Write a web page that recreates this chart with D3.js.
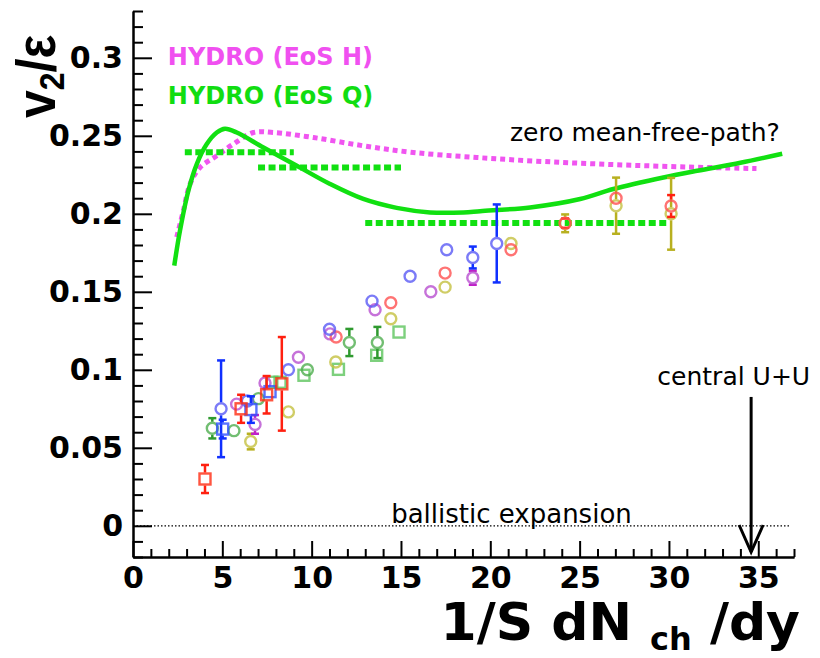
<!DOCTYPE html>
<html>
<head>
<meta charset="utf-8">
<script src="https://cdn.jsdelivr.net/npm/d3@7"></script>
<style>
html, body { margin: 0; padding: 0; background: #fff; }
svg { display: block; }
</style>
</head>
<body>
<div id="root"></div>
<script>
const width = 820;
const height = 658;

// hydro curves
const hydroQX = [2.31, 2.63, 3.10, 3.57, 4.13, 4.69, 5.15, 5.81, 7.30, 9.17, 11.03, 12.89, 14.76, 16.63, 18.49, 19.43, 22.23, 25.03, 26.89, 29.69, 31.58, 34.0, 36.34];
const hydroQY = [0.1668, 0.1892, 0.2148, 0.2319, 0.2447, 0.2521, 0.2545, 0.2521, 0.2425, 0.2308, 0.2191, 0.2095, 0.2038, 0.2009, 0.2009, 0.2017, 0.2041, 0.2095, 0.2159, 0.2233, 0.2276, 0.2327, 0.2385];
const hydroHX = [2.45, 2.82, 3.19, 3.75, 4.69, 5.62, 6.74, 7.86, 10.10, 12.89, 15.69, 19.24, 23.0, 27.0, 31.0, 34.9];
const hydroHY = [0.185, 0.202, 0.219, 0.2297, 0.2372, 0.2447, 0.2521, 0.2521, 0.2489, 0.2436, 0.2393, 0.2361, 0.2335, 0.2315, 0.2300, 0.2290];

// EoS Q plateaus (dotted green)
const plateauFrom = [2.9, 7.0, 13.0];
const plateauTo = [9.0, 15.0, 30.0];
const plateauY = [0.2394, 0.2296, 0.1941];

// data: [1/S dNch/dy, v2/eps, error]
const redSquares = [[4.03, 0.030, 0.009], [6.05, 0.075, 0.009], [7.48, 0.084, 0.012], [8.33, 0.091, 0.030]];
const redCircles = [[11.37, 0.121, 0], [14.43, 0.143, 0], [17.47, 0.162, 0], [21.16, 0.177, 0], [24.19, 0.194, 0.003], [27.04, 0.210, 0], [30.12, 0.205, 0.007]];
const blueCircles = [[4.93, 0.075, 0.031], [6.40, 0.080, 0], [8.70, 0.100, 0], [11.0, 0.126, 0], [13.38, 0.144, 0], [15.51, 0.160, 0], [17.56, 0.177, 0], [19.02, 0.172, 0.007], [20.36, 0.181, 0.025]];
const blueSquares = [[5.02, 0.062, 0.006], [6.60, 0.0745, 0.0085], [7.67, 0.086, 0]];
const greenCircles = [[4.44, 0.0625, 0.0065], [5.65, 0.061, 0], [7.02, 0.0815, 0], [9.76, 0.100, 0], [12.11, 0.1175, 0.0087], [13.68, 0.1175, 0.010]];
const greenSquares = [[7.77, 0.092, 0], [8.23, 0.092, 0], [9.57, 0.0965, 0], [11.5, 0.1003, 0], [13.64, 0.1093, 0], [14.89, 0.1242, 0]];
const magentaCircles = [[5.80, 0.078, 0], [6.83, 0.065, 0.006], [7.39, 0.0915, 0], [9.26, 0.108, 0], [11.03, 0.123, 0], [13.55, 0.1385, 0], [16.67, 0.150, 0], [19.02, 0.159, 0.0045]];
const oliveCircles = [[6.59, 0.054, 0.005], [8.70, 0.073, 0], [11.35, 0.105, 0], [14.43, 0.1327, 0], [17.47, 0.153, 0], [21.16, 0.181, 0], [24.19, 0.1939, 0.0057], [27.04, 0.2052, 0.018], [30.12, 0.200, 0.023]];

const xTickLabels = [0, 5, 10, 15, 20, 25, 30, 35];
const yTickLabels = [0, 0.05, 0.1, 0.15, 0.2, 0.25, 0.3];

const series = [
    {pts: greenSquares, shape: 'square', color: '#5cc45c', err: '#30a030'},
    {pts: greenCircles, shape: 'circle', color: '#4fae4f', err: '#2f9a2f'},
    {pts: oliveCircles, shape: 'circle', color: '#c4c040', err: '#b8b020'},
    {pts: magentaCircles, shape: 'circle', color: '#b84fd0', err: '#c020c8'},
    {pts: redCircles, shape: 'circle', color: '#ff5050', err: '#ff2010'},
    {pts: blueCircles, shape: 'circle', color: '#5a5af5', err: '#1030ff'},
    {pts: blueSquares, shape: 'square', color: '#3050ff', err: '#1030ff'},
    {pts: redSquares, shape: 'square', color: '#ff2a10', err: '#ff2010'}
];

const x = d3.scaleLinear().domain([0, 37]).range([133, 794]);
const y = d3.scaleLinear().domain([-0.02, 0.33]).range([557, 11]);

const svg = d3.select('#root')
    .append('svg')
    .attr('width', width)
    .attr('height', height);

// zero line
svg.append('line')
    .attr('x1', x(0)).attr('x2', x(36.8))
    .attr('y1', y(0)).attr('y2', y(0))
    .attr('stroke', '#000')
    .attr('stroke-width', 1.2)
    .attr('stroke-dasharray', '1.5,2');

// axes - minor ticks first, then major with labels
const xMinor = d3.range(0, 38).filter(d => d % 5 !== 0);
const yMinor = d3.range(-2, 34).filter(d => d % 5 !== 0).map(d => d / 100);

const styleAxis = g => {
    g.selectAll('line').attr('stroke', '#000').attr('stroke-width', 2);
    g.select('.domain').attr('stroke', '#000').attr('stroke-width', 2);
    g.selectAll('text')
        .attr('fill', '#000')
        .attr('font-family', 'DejaVu Sans')
        .attr('font-weight', 'bold')
        .attr('font-size', 30);
};

svg.append('g')
    .attr('transform', `translate(0,${y(-0.02)})`)
    .call(d3.axisBottom(x).tickValues(xMinor).tickSize(-8).tickSizeOuter(0).tickFormat(''))
    .call(styleAxis);
svg.append('g')
    .attr('transform', `translate(0,${y(-0.02)})`)
    .call(d3.axisBottom(x).tickValues(xTickLabels).tickSize(-16).tickSizeOuter(0).tickPadding(10).tickFormat(d => String(d)))
    .call(styleAxis);
svg.append('g')
    .attr('transform', `translate(${x(0)},0)`)
    .call(d3.axisLeft(y).tickValues(yMinor).tickSize(-10).tickSizeOuter(0).tickFormat(''))
    .call(styleAxis);
svg.append('g')
    .attr('transform', `translate(${x(0)},0)`)
    .call(d3.axisLeft(y).tickValues(yTickLabels).tickSize(-19).tickSizeOuter(0).tickPadding(10).tickFormat(d => String(d)))
    .call(styleAxis);

// hydro curves
const line = d3.line()
    .x(d => x(d[0]))
    .y(d => y(d[1]))
    .curve(d3.curveCatmullRom.alpha(0.5));

svg.append('path')
    .attr('d', line(hydroHX.map((d, i) => [d, hydroHY[i]])))
    .attr('fill', 'none')
    .attr('stroke', '#f055f0')
    .attr('stroke-width', 5)
    .attr('stroke-dasharray', '5,4');

svg.selectAll('.plateau')
    .data(plateauY)
    .join('line')
    .attr('class', 'plateau')
    .attr('x1', (d, i) => x(plateauFrom[i]))
    .attr('x2', (d, i) => x(plateauTo[i]))
    .attr('y1', d => y(d))
    .attr('y2', d => y(d))
    .attr('stroke', '#11e011')
    .attr('stroke-width', 6)
    .attr('stroke-dasharray', '7,3.5');

svg.append('path')
    .attr('d', line(hydroQX.map((d, i) => [d, hydroQY[i]])))
    .attr('fill', 'none')
    .attr('stroke', '#11e011')
    .attr('stroke-width', 4.5);

// data points
const r = 5.5;
series.forEach(s => {
    const g = svg.append('g');
    // error bars, broken where the marker sits
    s.pts.filter(p => p[2] > 0).forEach(p => {
        const cx = x(p[0]);
        const top = y(p[1] + p[2]);
        const bot = y(p[1] - p[2]);
        const c = y(p[1]);
        if (c - r - 1 > top) {
            g.append('line').attr('x1', cx).attr('x2', cx).attr('y1', top).attr('y2', c - r - 1)
                .attr('stroke', s.err).attr('stroke-width', 2.5);
        }
        if (bot > c + r + 1) {
            g.append('line').attr('x1', cx).attr('x2', cx).attr('y1', c + r + 1).attr('y2', bot)
                .attr('stroke', s.err).attr('stroke-width', 2.5);
        }
        [top, bot].forEach(yy => {
            g.append('line').attr('x1', cx - 4).attr('x2', cx + 4).attr('y1', yy).attr('y2', yy)
                .attr('stroke', s.err).attr('stroke-width', 2.5);
        });
    });
    if (s.shape === 'circle') {
        g.selectAll('circle')
            .data(s.pts)
            .join('circle')
            .attr('cx', d => x(d[0]))
            .attr('cy', d => y(d[1]))
            .attr('r', r)
            .attr('fill', 'none')
            .attr('stroke', s.color)
            .attr('stroke-opacity', 0.8)
            .attr('stroke-width', 2.4);
    } else {
        g.selectAll('rect')
            .data(s.pts)
            .join('rect')
            .attr('x', d => x(d[0]) - r)
            .attr('y', d => y(d[1]) - r)
            .attr('width', 2 * r)
            .attr('height', 2 * r)
            .attr('fill', 'none')
            .attr('stroke', s.color)
            .attr('stroke-opacity', 0.8)
            .attr('stroke-width', 2.4);
    }
});

// annotations
const note = (t, xv, yv) => svg.append('text')
    .attr('x', x(xv)).attr('y', y(yv))
    .attr('font-family', 'DejaVu Sans')
    .attr('font-size', 25)
    .attr('fill', '#000')
    .text(t);
note('ballistic expansion', 14.45, 0.0018).attr('font-size', 26);
note('zero mean-free-path?', 21.1, 0.2467);
note('central U+U', 29.35, 0.0903);

// arrow to central U+U
const ax = x(34.6);
svg.append('line')
    .attr('x1', ax).attr('x2', ax)
    .attr('y1', y(0.0826)).attr('y2', y(-0.0168))
    .attr('stroke', '#000').attr('stroke-width', 3);
svg.append('path')
    .attr('d', `M${ax - 12},${y(-0.0168) - 27}L${ax},${y(-0.0168)}L${ax + 12},${y(-0.0168) - 27}`)
    .attr('fill', 'none')
    .attr('stroke', '#000')
    .attr('stroke-width', 3);

// legend
svg.append('text')
    .attr('x', x(1.95)).attr('y', y(0.2954))
    .attr('font-family', 'DejaVu Sans').attr('font-weight', 'bold').attr('font-size', 24)
    .attr('fill', '#f050f0')
    .text('HYDRO (EoS H)');
svg.append('text')
    .attr('x', x(1.95)).attr('y', y(0.2704))
    .attr('font-family', 'DejaVu Sans').attr('font-weight', 'bold').attr('font-size', 24)
    .attr('fill', '#11dd11')
    .text('HYDRO (EoS Q)');

// axis titles
const xt = svg.append('text')
    .attr('x', 800).attr('y', 640)
    .attr('text-anchor', 'end')
    .attr('font-family', 'DejaVu Sans').attr('font-weight', 'bold').attr('font-size', 52)
    .attr('fill', '#000');
xt.append('tspan').text('1/S dN ');
xt.append('tspan').attr('font-size', 32).attr('dy', 10).text('ch');
xt.append('tspan').attr('dy', -10).text(' /dy');

const yt = svg.append('text')
    .attr('transform', 'translate(55,118) scale(1.1,1) rotate(-90)')
    .attr('font-family', 'Liberation Sans').attr('font-weight', 'bold').attr('font-size', 50)
    .attr('fill', '#000');
yt.append('tspan').text('v');
yt.append('tspan').attr('font-size', 32).attr('dy', 8).text('2');
yt.append('tspan').attr('dy', -8).text('/ε');
</script>
</body>
</html>
